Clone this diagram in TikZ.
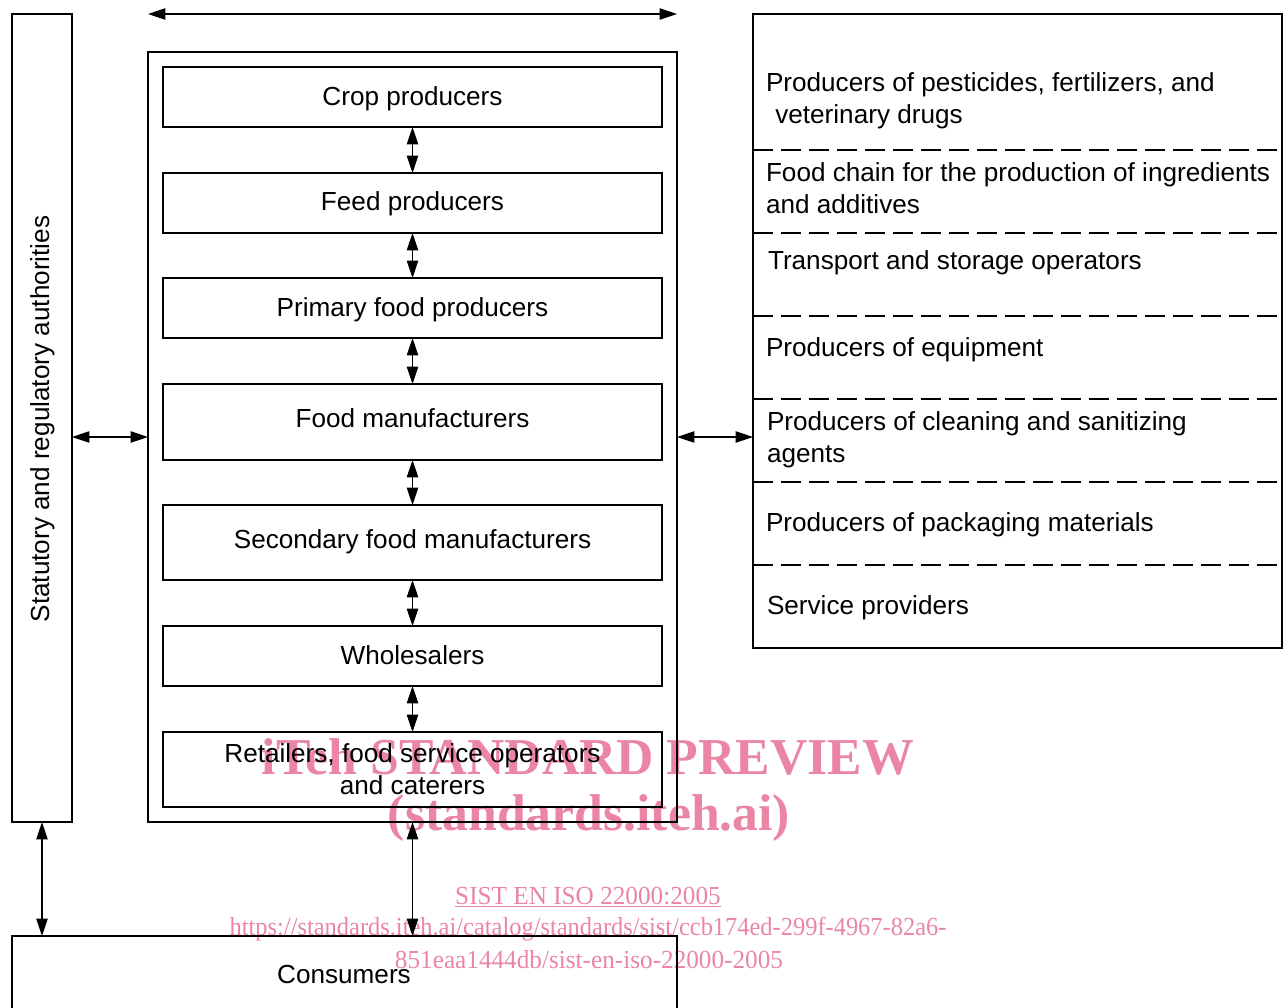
\documentclass[tikz,border=0pt]{standalone}
\usepackage{fontspec}
\usepackage{graphicx}
\setmainfont{Liberation Sans}
\newfontfamily\wmfont{Liberation Serif}
\usetikzlibrary{arrows.meta}
\definecolor{wmpink}{RGB}{234,134,164}
\begin{document}
\begin{tikzpicture}[x=0.75pt,y=-0.75pt,
  every node/.style={inner sep=0pt, outer sep=0pt},
  txt/.style={font=\fontsize{19.6}{24}\selectfont},
  box/.style={draw, line width=1.4pt},
  inbox/.style={box, minimum width=374.25pt},
  arr/.style={line width=0.9pt, {Triangle[length=13pt,width=8.5pt]}-{Triangle[length=13pt,width=8.5pt]}},
  sep/.style={line width=1.2pt, dash pattern=on 15pt off 6pt},
  wm/.style={text=wmpink, font=\wmfont\fontsize{19.5}{22}\selectfont},
  wmbig/.style={text=wmpink, font=\wmfont\bfseries\fontsize{38.8}{40}\selectfont}
]
\useasboundingbox (0,0) rectangle (1287,1007);

% watermark (behind)
\node[wmbig] (w1) at (588,757) {iTeh STANDARD PREVIEW};
\node[wmbig] (w2) at (589,818) {(standards.iteh.ai)};
\node[wm] (w3) at (588,897) {\scalebox{0.97}[1]{\underline{SIST EN ISO 22000:2005}}};
\node[wm] (w4) at (588,929) {\scalebox{0.94}[1]{https://standards.iteh.ai/catalog/standards/sist/ccb174ed-299f-4967-82a6-}};
\node[wm] (w5) at (589,960) {\scalebox{0.97}[1]{851eaa1444db/sist-en-iso-22000-2005}};

% left authority box
\node[box, minimum width=45pt, minimum height=606pt] (auth) at (42,418) {};
\node[txt, rotate=90] (authtxt) at (43,419) {Statutory and regulatory authorities};

% outer food chain box
\node[box, minimum width=396.75pt, minimum height=577.5pt] (outer) at (412.5,437) {};

% inner boxes
\node[inbox, minimum height=45pt] (crop) at (412.5,97) {};
\node[inbox, minimum height=45pt] (feed) at (412.5,203) {};
\node[inbox, minimum height=45pt] (prim) at (412.5,308) {};
\node[inbox, minimum height=57pt] (man) at (412.5,422) {};
\node[inbox, minimum height=56.25pt] (sec) at (412.5,542.5) {};
\node[inbox, minimum height=45pt] (whole) at (412.5,656) {};
\node[inbox, minimum height=56.25pt] (ret) at (412.5,769.5) {};

\node[txt] (cropt) at ([yshift=-1.5pt]crop.center) {Crop producers};
\node[txt] (feedt) at ([yshift=-0.75pt]feed.center) {Feed producers};
\node[txt] (primt) at ([yshift=-1.5pt]prim.center) {Primary food producers};
\node[txt] (mant) at ([yshift=3pt]man.center) {Food manufacturers};
\node[txt] (sect) at ([yshift=0.75pt]sec.center) {Secondary food manufacturers};
\node[txt] (wholet) at ([yshift=0.75pt]whole.center) {Wholesalers};
\node[txt, align=center] (rett) at (ret.center) {Retailers, food service operators\\and caterers};

\draw[arr] (crop.south) -- (feed.north);
\draw[arr] (feed.south) -- (prim.north);
\draw[arr] (prim.south) -- (man.north);
\draw[arr] (man.south) -- (sec.north);
\draw[arr] (sec.south) -- (whole.north);
\draw[arr] (whole.south) -- (ret.north);

% top arrow
\coordinate (topL) at (148,14);
\coordinate (topR) at (677,14);
\draw[arr] (topL) -- (topR);

% right box
\node[box, minimum width=396.75pt, minimum height=475.5pt] (ext) at (1017.5,331) {};
\foreach \yy in {150,233,316,399,482,565} {
  \draw[sep] (ext.west |- 0,\yy) -- (ext.east |- 0,\yy);
}
\node[txt, anchor=west, align=left] (e1) at (766,101) {Producers of pesticides, fertilizers, and\\\hspace{7pt}veterinary drugs};
\node[txt, anchor=west, align=left] (e2) at (766,188) {Food chain for the production of ingredients\\and additives};
\node[txt, anchor=west] (e3) at (768,263) {Transport and storage operators};
\node[txt, anchor=west] (e4) at (766,350) {Producers of equipment};
\node[txt, anchor=west, align=left] (e5) at (767,440) {Producers of cleaning and sanitizing\\agents};
\node[txt, anchor=west] (e6) at (766,525) {Producers of packaging materials};
\node[txt, anchor=west] (e7) at (767,608) {Service providers};

% horizontal arrows
\draw[arr] (auth.east |- outer.west) -- (outer.west);
\draw[arr] (outer.east) -- (ext.west |- outer.east);

% consumers
\node[minimum width=498.75pt, minimum height=58.5pt] (cons) at (344.5,975) {};
\draw[line width=1.4pt] (cons.south west) ++(0,20) -- (cons.north west) -- (cons.north east) -- ++(0,95);
\node[txt] (constxt) at (344,974) {Consumers};
\draw[arr] (auth.south) -- (auth.south |- cons.north);
\draw[arr] (outer.south) -- (outer.south |- cons.north);
\end{tikzpicture}
\end{document}
